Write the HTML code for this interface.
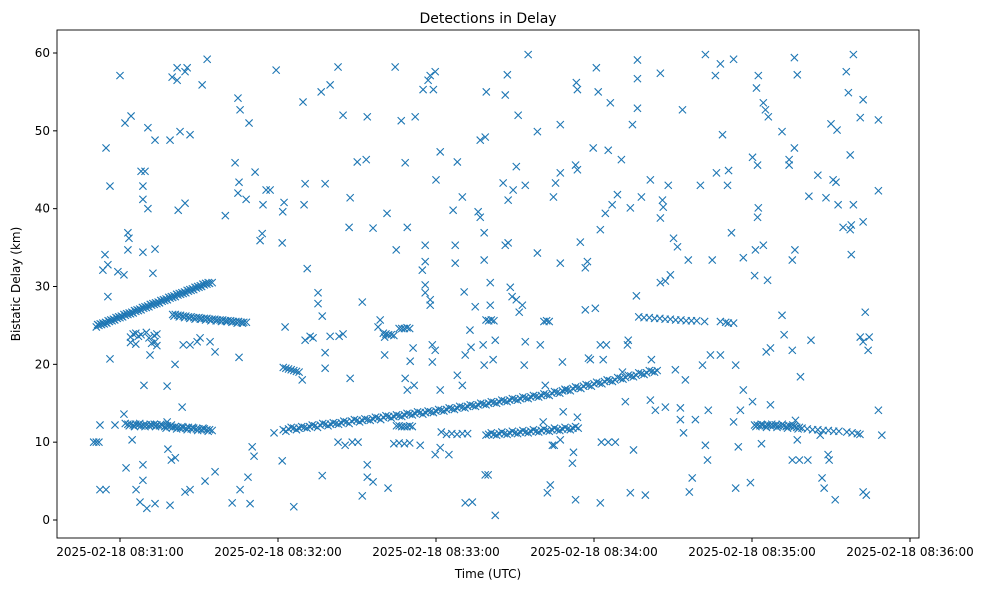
<!DOCTYPE html>
<html><head><meta charset="utf-8"><style>
html,body{margin:0;padding:0;background:#fff;}
svg text{font-family:"DejaVu Sans","Liberation Sans",sans-serif;fill:#000;}
</style></head>
<body>
<svg id="chart" width="988" height="590" viewBox="0 0 988 590" xmlns="http://www.w3.org/2000/svg">
<rect width="988" height="590" fill="#fff"/>
<text x="488" y="23" text-anchor="middle" font-size="14">Detections in Delay</text>
<text x="488" y="578" text-anchor="middle" font-size="12">Time (UTC)</text>
<text x="20" y="284" text-anchor="middle" font-size="12" transform="rotate(-90 20 284)">Bistatic Delay (km)</text>
<g id="marks"></g>
<g id="axes"></g>
</svg>
<script>
// seconds after 08:30:00 and bistatic delay (km)
const xTickSeconds = [60, 120, 180, 240, 300, 360];
const xTickLabels = ["2025-02-18 08:31:00","2025-02-18 08:32:00","2025-02-18 08:33:00","2025-02-18 08:34:00","2025-02-18 08:35:00","2025-02-18 08:36:00"];
const yTickValues = [0, 10, 20, 30, 40, 50, 60];
const track1 = [[51,24.8],[52,25.0],[53,25.1],[54,25.2],[55,25.3],[56,25.5],[57,25.6],[58,25.7],[59,25.9],[60,26.0],[61,26.1],[62,26.3],[63,26.4],[64,26.5],[65,26.6],[66,26.8],[67,26.9],[68,27.0],[69,27.2],[70,27.3],[71,27.4],[72,27.6],[73,27.7],[74,27.8],[75,27.9],[76,28.1],[77,28.2],[78,28.3],[79,28.5],[80,28.6],[81,28.7],[82,28.9],[83,29.0],[84,29.1],[85,29.2],[86,29.4],[87,29.5],[88,29.6],[89,29.8],[90,29.9],[91,30.0],[92,30.2],[93,30.3],[94,30.4],[95,30.5]];
const track1b = [[51.5,25.1],[52.5,25.2],[53.5,25.3],[54.5,25.4],[55.5,25.6],[56.5,25.7],[57.5,25.8],[58.5,26.0],[59.5,26.1],[60.5,26.2],[61.5,26.4],[62.5,26.5],[63.5,26.6],[64.5,26.7],[65.5,26.9],[66.5,27.0],[67.5,27.1],[68.5,27.3],[69.5,27.4],[70.5,27.5],[71.5,27.7],[72.5,27.8],[73.5,27.9],[74.5,28.0],[75.5,28.2],[76.5,28.3],[77.5,28.4],[78.5,28.6],[79.5,28.7],[80.5,28.8],[81.5,29.0],[82.5,29.1],[83.5,29.2],[84.5,29.3],[85.5,29.5],[86.5,29.6],[87.5,29.7],[88.5,29.9],[89.5,30.0],[90.5,30.1],[91.5,30.3],[92.5,30.4],[93.5,30.5]];
const track2 = [[80,26.4],[81,26.4],[82,26.3],[83,26.3],[84,26.2],[85,26.2],[86,26.1],[87,26.1],[88,26.0],[89,26.0],[90,26.0],[91,25.9],[92,25.9],[93,25.9],[94,25.8],[95,25.8],[96,25.8],[97,25.7],[98,25.7],[99,25.7],[100,25.6],[101,25.6],[102,25.6],[103,25.5],[104,25.5],[105,25.5],[106,25.4],[107,25.4],[108,25.4]];
const track2b = [[80.5,26.2],[82.5,26.1],[84.5,26.0],[86.5,25.9],[88.5,25.8],[90.5,25.8],[92.5,25.7],[94.5,25.6],[96.5,25.6],[98.5,25.5],[100.5,25.5],[102.5,25.4],[104.5,25.3],[106.5,25.3]];
const track3 = [[62,12.4],[63,12.3],[64,12.3],[65,12.2],[66,12.3],[67,12.2],[68,12.1],[69,12.2],[70,12.2],[71,12.1],[72,12.2],[73,12.3],[74,12.2],[75,12.1],[76,12.2],[77,12.0],[78,12.1],[79,12.0],[80,11.9],[81,12.0],[82,11.9],[83,11.8],[84,11.9],[85,11.8],[86,11.9],[87,11.7],[88,11.8],[89,11.7],[90,11.7],[91,11.6],[92,11.7],[93,11.6],[94,11.6],[95,11.5]];
const track3b = [[63.5,12.1],[65.5,12.0],[67.5,12.4],[69.5,12.0],[71.5,12.3],[73.5,12.0],[75.5,12.3],[77.5,11.8],[79.5,12.2],[81.5,11.7],[83.5,12.0],[85.5,11.6],[87.5,11.9],[89.5,11.5],[91.5,11.8],[93.5,11.4]];
const track4 = [[122,11.6],[124,11.7],[126,11.8],[128,11.8],[130,11.9],[132,12.0],[134,12.1],[136,12.2],[138,12.3],[140,12.3],[142,12.4],[144,12.5],[146,12.6],[148,12.7],[150,12.8],[152,12.8],[154,12.9],[156,13.0],[158,13.1],[160,13.2],[162,13.3],[164,13.3],[166,13.4],[168,13.5],[170,13.6],[172,13.7],[174,13.8],[176,13.8],[178,13.9],[180,14.0],[182,14.1],[184,14.2],[186,14.3],[188,14.4],[190,14.5],[192,14.6],[194,14.7],[196,14.8],[198,14.9],[200,15.0],[202,15.1],[204,15.2],[206,15.3],[208,15.4],[210,15.5],[212,15.6],[214,15.7],[216,15.8],[218,15.9],[220,16.0],[222,16.1],[224,16.3],[226,16.4],[228,16.6],[230,16.7],[232,16.9],[234,17.0],[236,17.2],[238,17.3],[240,17.5],[242,17.6],[244,17.8],[246,17.9],[248,18.0],[250,18.2],[252,18.3],[254,18.5],[256,18.6],[258,18.8],[260,18.9],[262,19.1],[264,19.2]];
const track4b = [[123,11.4],[125,11.9],[127,11.6],[129,12.0],[131,11.8],[133,12.2],[135,11.9],[137,12.4],[139,12.1],[141,12.5],[143,12.3],[145,12.7],[147,12.4],[149,12.9],[151,12.6],[153,13.0],[155,12.8],[157,13.2],[159,12.9],[161,13.4],[163,13.1],[165,13.5],[167,13.3],[169,13.7],[171,13.5],[173,13.9],[175,13.6],[177,14.0],[179,13.8],[181,14.2],[183,14.0],[185,14.4],[187,14.2],[189,14.6],[191,14.4],[193,14.8],[195,14.6],[197,15.0],[199,14.8],[201,15.2],[203,15.0],[205,15.4],[207,15.2],[209,15.6],[211,15.4],[213,15.8],[215,15.6],[217,16.0],[219,15.8],[221,16.2],[223,16.0],[225,16.5],[227,16.3],[229,16.8],[231,16.6],[233,17.1],[235,16.9],[237,17.4],[239,17.2],[241,17.7],[243,17.5],[245,18.0],[247,17.8],[249,18.3],[251,18.1],[253,18.6],[255,18.4],[257,18.9],[259,18.7],[261,19.2],[263,19.0]];
const track5 = [[199,10.9],[200,11.0],[202,11.0],[204,11.1],[206,11.1],[208,11.2],[210,11.2],[212,11.3],[214,11.3],[216,11.4],[218,11.4],[220,11.5],[222,11.5],[224,11.6],[226,11.6],[228,11.7],[230,11.7],[232,11.8],[234,11.8]];
const track5b = [[201,11.2],[203,10.9],[205,11.3],[207,11.0],[209,11.4],[211,11.1],[213,11.5],[215,11.2],[217,11.6],[219,11.3],[221,11.7],[223,11.4],[225,11.8],[227,11.5],[229,11.9],[231,11.6],[233,12.0]];
const track6 = [[257,26.1],[259,26.0],[261,26.0],[263,25.9],[265,25.9],[267,25.8],[269,25.8],[271,25.7],[273,25.7],[275,25.6],[277,25.6],[279,25.6],[282,25.5],[288,25.5],[290,25.4],[291,25.3],[293,25.3]];
const track7 = [[301,12.2],[302,12.2],[303,12.1],[304,12.2],[305,12.1],[306,12.2],[307,12.1],[308,12.1],[309,12.2],[310,12.1],[311,12.1],[312,12.1],[313,12.0],[314,12.1],[315,12.0],[316,12.0],[317,11.9],[318,11.9],[319,11.8],[321,11.7],[323,11.6],[325,11.6],[327,11.5],[329,11.5],[331,11.4],[333,11.4],[336,11.3],[338,11.2],[340,11.1],[341,11.0]];
const track7b = [[301.5,12.0],[303.5,12.3],[305.5,11.9],[307.5,12.3],[309.5,11.9],[311.5,12.3],[313.5,11.8],[315.5,12.2],[317.5,11.7]];
const clusters = [[50,10.0],[51,10.0],[52,10.0],[122,19.6],[123,19.5],[124,19.4],[125,19.3],[126,19.2],[127,19.1],[128,19.0],[160,24.0],[161,23.9],[162,23.8],[163,23.8],[164,23.7],[166,24.6],[167,24.6],[168,24.6],[169,24.7],[170,24.6],[165,12.1],[166,12.1],[167,12.0],[168,12.0],[169,12.0],[170,12.1],[171,12.0],[164,9.8],[166,9.9],[168,9.8],[170,9.9],[199,25.7],[200,25.6],[201,25.7],[202,25.6],[221,25.5],[222,25.6],[223,25.5],[64,23.5],[65,23.9],[66,24.0],[67,23.6],[68,23.8],[70,24.1],[71,23.4],[73,23.7],[74,23.9],[64,22.8],[66,22.6],[72,22.7],[74,22.4],[182,11.3],[184,11.0],[186,11.1],[188,11.0],[190,11.1],[192,11.1]];
const scatterPts = [[52.4,3.9],[54.7,3.9],[54.7,47.8],[56.2,42.9],[54.3,34.1],[53.5,32.1],[55.4,32.8],[55.4,28.7],[56.2,20.7],[52.4,12.2],[58.1,12.2],[60,57.1],[59.2,31.9],[61.5,31.5],[61.5,13.6],[61.9,51.0],[64.2,51.9],[63.0,36.9],[63.4,36.2],[63.0,34.7],[62.3,6.7],[64.6,10.3],[66.1,3.9],[68.0,44.8],[69.5,44.8],[68.7,42.9],[68.7,41.2],[70.6,40.0],[70.6,50.4],[68.7,34.4],[69.1,17.3],[68.7,7.1],[68.7,5.1],[67.6,2.3],[70.2,1.5],[73.3,2.1],[73.3,48.8],[72.5,31.7],[73.3,34.8],[73.3,22.9],[71.4,21.2],[77.9,17.2],[77.9,12.6],[79.0,1.9],[78.2,9.1],[79.0,48.8],[79.8,56.9],[81.7,56.5],[81.7,58.1],[82.8,49.9],[84.7,57.6],[85.5,58.1],[82.1,39.8],[84.7,40.7],[86.6,49.5],[79.5,7.7],[81.0,8.0],[80.9,20.0],[83.6,14.5],[84.7,3.6],[86.6,3.9],[84.0,22.5],[86.6,22.5],[89.3,22.9],[90.4,23.4],[92.3,5.0],[91.2,55.9],[93.1,59.2],[96.1,6.2],[96.1,21.6],[94.2,22.9],[100,39.1],[102.6,2.2],[103.7,45.9],[105.2,43.4],[104.8,54.2],[105.6,52.7],[104.8,42.0],[107.9,41.2],[109.0,51.0],[105.2,20.9],[105.6,3.9],[108.6,5.5],[109.4,2.1],[110.2,9.4],[111.3,44.7],[110.9,8.2],[113.2,35.9],[114.3,40.5],[115.5,42.4],[117.0,42.4],[119.3,57.8],[114,36.8],[118.5,11.2],[121.8,39.6],[122.3,40.8],[121.6,35.6],[121.6,7.6],[122.7,24.8],[126,1.7],[129.5,53.7],[130.3,43.2],[129.9,40.5],[129.2,18.0],[130.3,23.1],[133.3,23.4],[131.1,32.3],[132.2,23.6],[135.2,29.2],[135.2,27.8],[136.8,26.2],[137.9,21.5],[137.9,19.5],[137.9,43.2],[136.8,5.7],[136.4,55.0],[139.8,55.9],[142.8,58.2],[139.8,23.6],[143.2,23.6],[144.7,23.9],[144.7,52.0],[147.0,37.6],[147.4,41.4],[147.4,18.2],[148.2,10.0],[142.8,10.0],[145.5,9.6],[150.1,46.0],[150.4,10.0],[152.0,3.1],[152.0,28.0],[153.9,51.8],[153.5,46.3],[153.9,7.1],[153.9,5.5],[156.1,4.9],[156.1,37.5],[158.0,24.8],[158.8,25.7],[161.4,39.4],[160.5,23.5],[160.5,21.2],[161.8,4.1],[164.5,58.2],[164.9,34.7],[166.8,51.3],[168.3,45.9],[169.1,37.6],[168.3,18.2],[169.1,16.7],[170.2,20.4],[171.3,22.1],[172.1,51.8],[171.7,17.3],[174,9.6],[175.1,55.3],[175.9,35.3],[175.9,33.2],[174.8,32.1],[175.9,30.2],[175.9,29.2],[177.0,56.5],[177.8,57.1],[179.7,57.6],[179,55.3],[177.8,28.3],[177.8,27.6],[178.6,22.5],[178.6,20.3],[180,43.7],[181.6,47.3],[179.7,21.8],[181.6,16.7],[179.7,8.4],[181.6,9.3],[184.9,8.4],[186.5,39.8],[187.3,35.3],[187.3,33.0],[188.1,46.0],[188.1,18.6],[190,41.5],[191.1,2.2],[190.7,29.3],[191.1,21.2],[190,17.3],[192.9,24.4],[193.3,22.2],[194.9,27.4],[196.0,39.6],[196.8,38.9],[196.8,48.8],[198.7,49.2],[198.3,36.9],[198.3,33.4],[197.9,22.5],[198.3,19.9],[198.7,5.8],[199.8,5.8],[193.8,2.3],[199.1,55.0],[202.5,0.6],[200.6,30.5],[200.6,27.6],[202.5,23.1],[201.7,20.6],[205.5,43.3],[206.3,54.6],[207.1,57.2],[206.3,35.3],[207.4,35.6],[207.4,41.1],[208.2,29.9],[208.9,28.7],[209.3,42.4],[210.5,45.4],[211.2,52.0],[210.5,28.3],[211.6,26.7],[212.8,27.6],[213.9,43.0],[213.9,22.9],[213.5,19.9],[215,59.8],[218.5,49.9],[218.5,34.3],[219.6,22.5],[221.5,17.3],[220.7,12.6],[222.3,3.5],[223.4,4.5],[224.2,9.6],[224.6,41.5],[225.4,43.3],[227.2,50.8],[227.2,44.6],[227.2,33.0],[224.9,9.6],[227.2,10.3],[228,20.3],[228.3,13.9],[229.1,16.7],[231.8,7.3],[232.2,8.7],[233,2.6],[233,45.6],[233.7,45.0],[233.3,56.2],[233.7,55.3],[234.8,35.7],[233.7,13.2],[236.7,32.4],[236.7,27.0],[237.5,33.2],[237.9,20.8],[238.6,20.6],[239.7,47.8],[240.9,58.1],[241.6,55.0],[240.5,27.2],[242.4,37.3],[242.4,22.5],[243.5,20.6],[242.8,10.0],[242.4,2.2],[244.3,39.4],[244.7,22.5],[245.4,47.5],[245.4,10.0],[246.2,53.6],[246.9,40.5],[248.1,10.0],[248.9,41.8],[250.4,46.3],[250.8,19.0],[251.9,15.2],[252.7,22.5],[253,23.1],[253.8,3.5],[253.8,40.1],[254.6,50.8],[255,9.0],[256.1,28.8],[256.5,59.1],[256.5,56.7],[256.5,52.9],[258,41.5],[259.5,3.2],[261.4,15.4],[261.4,43.7],[261.8,20.6],[263.3,14.1],[265.2,57.4],[265.2,30.5],[265.2,38.8],[266,41.1],[266.3,40.2],[267.1,14.5],[268.2,43.0],[267.1,30.7],[269,31.5],[270.2,36.2],[270.9,19.3],[271.7,35.1],[272.8,12.9],[272.8,14.4],[274,11.2],[273.6,52.7],[274.7,18.0],[275.8,33.4],[276.2,3.6],[277.3,5.4],[278.5,12.9],[280.4,43.0],[281.2,19.9],[282.3,9.6],[282.3,59.8],[283.1,7.7],[283.4,14.1],[284.2,21.2],[284.9,33.4],[286.1,57.1],[286.5,44.6],[288,58.6],[288.8,49.5],[288,21.2],[290.7,43.0],[291.1,44.9],[292.2,36.9],[293,59.2],[293,12.6],[293.8,4.1],[293.8,19.9],[294.8,9.4],[296.7,33.7],[296.7,16.7],[295.6,14.1],[299.4,4.8],[300.2,46.6],[300.2,15.2],[301,31.4],[301.3,34.7],[302.1,45.6],[302.1,38.9],[302.4,57.1],[301.7,55.5],[302.4,40.1],[303.6,9.8],[304.3,53.6],[305.1,52.7],[306.2,51.8],[305.9,30.8],[304.3,35.3],[305.4,21.6],[307,14.8],[307,22.1],[311.4,49.9],[311.4,26.3],[312.2,23.8],[314.1,45.6],[314.1,46.3],[315.3,33.4],[315.3,7.7],[316.1,59.4],[317.2,57.2],[315.3,21.8],[316.3,34.7],[316.1,47.8],[317.2,10.3],[318,7.7],[318.4,18.4],[316.5,12.8],[321.6,41.6],[321.2,7.7],[322.4,23.1],[325,44.3],[325.9,10.9],[326.6,5.4],[327.4,4.1],[328.1,41.4],[328.9,8.4],[329.3,7.7],[330,50.9],[330.8,43.7],[331.9,43.4],[331.6,2.6],[332.3,50.1],[332.7,40.5],[334.6,37.6],[335.8,57.6],[336.6,54.9],[338.5,59.8],[337.3,46.9],[337.7,37.9],[337.3,37.3],[337.7,34.1],[338.5,40.5],[341.1,51.7],[342.2,54.0],[342.2,38.3],[341.1,23.5],[342.2,22.9],[343,26.7],[342.2,3.6],[343.4,3.2],[344.1,21.8],[344.5,23.5],[348,51.4],[348,42.3],[348,14.1],[349.3,10.9]];

const X0 = 120, PX_PER_SEC = 158/60, Y0 = 520, PX_PER_KM = 467/60;
const PLOT = {l:57, r:919, t:30, b:538};
function xScale(s){ return X0 + (s - 60) * PX_PER_SEC; }
function yScale(d){ return Y0 - d * PX_PER_KM; }
const NS = "http://www.w3.org/2000/svg";
const marks = document.getElementById('marks');
const axes = document.getElementById('axes');

function drawSeries(arr, name){
  arr.forEach(function(p){
    const cx = xScale(p[0]), cy = yScale(p[1]), r = 3.6;
    const path = document.createElementNS(NS, 'path');
    path.setAttribute('d', 'M'+(cx-r)+' '+(cy-r)+'L'+(cx+r)+' '+(cy+r)+'M'+(cx-r)+' '+(cy+r)+'L'+(cx+r)+' '+(cy-r));
    path.setAttribute('stroke', '#1f77b4');
    path.setAttribute('stroke-width', '1.1');
    path.setAttribute('fill', 'none');
    
    
    marks.appendChild(path);
  });
}
drawSeries(track1, 'detection-marker');
drawSeries(track1b, 'detection-marker');
drawSeries(track2, 'detection-marker');
drawSeries(track2b, 'detection-marker');
drawSeries(track3, 'detection-marker');
drawSeries(track3b, 'detection-marker');
drawSeries(track4, 'detection-marker');
drawSeries(track4b, 'detection-marker');
drawSeries(track5, 'detection-marker');
drawSeries(track5b, 'detection-marker');
drawSeries(track6, 'detection-marker');
drawSeries(track7, 'detection-marker');
drawSeries(track7b, 'detection-marker');
drawSeries(clusters, 'detection-marker');
drawSeries(scatterPts, 'detection-marker');

const frame = document.createElementNS(NS, 'rect');
frame.setAttribute('x', PLOT.l); frame.setAttribute('y', PLOT.t);
frame.setAttribute('width', PLOT.r - PLOT.l); frame.setAttribute('height', PLOT.b - PLOT.t);
frame.setAttribute('fill', 'none'); frame.setAttribute('stroke', '#000'); frame.setAttribute('stroke-width', '0.9');


axes.appendChild(frame);

yTickValues.forEach(function(v){
  const y = yScale(v);
  const t = document.createElementNS(NS, 'line');
  t.setAttribute('x1', PLOT.l-4); t.setAttribute('x2', PLOT.l); t.setAttribute('y1', y); t.setAttribute('y2', y);
  t.setAttribute('stroke', '#000');
  
  
  axes.appendChild(t);
  const tx = document.createElementNS(NS, 'text');
  tx.setAttribute('x', PLOT.l-7); tx.setAttribute('y', y+4); tx.setAttribute('text-anchor', 'end'); tx.setAttribute('font-size', '12');
  tx.textContent = String(v);
  
  
  axes.appendChild(tx);
});
xTickSeconds.forEach(function(s, i){
  const x = xScale(s);
  const t = document.createElementNS(NS, 'line');
  t.setAttribute('x1', x); t.setAttribute('x2', x); t.setAttribute('y1', PLOT.b); t.setAttribute('y2', PLOT.b+4);
  t.setAttribute('stroke', '#000');
  
  
  axes.appendChild(t);
  const tx = document.createElementNS(NS, 'text');
  tx.setAttribute('x', x); tx.setAttribute('y', PLOT.b+18); tx.setAttribute('text-anchor', 'middle'); tx.setAttribute('font-size', '12');
  tx.textContent = xTickLabels[i];
  
  
  axes.appendChild(tx);
});
</script>
</body></html>
